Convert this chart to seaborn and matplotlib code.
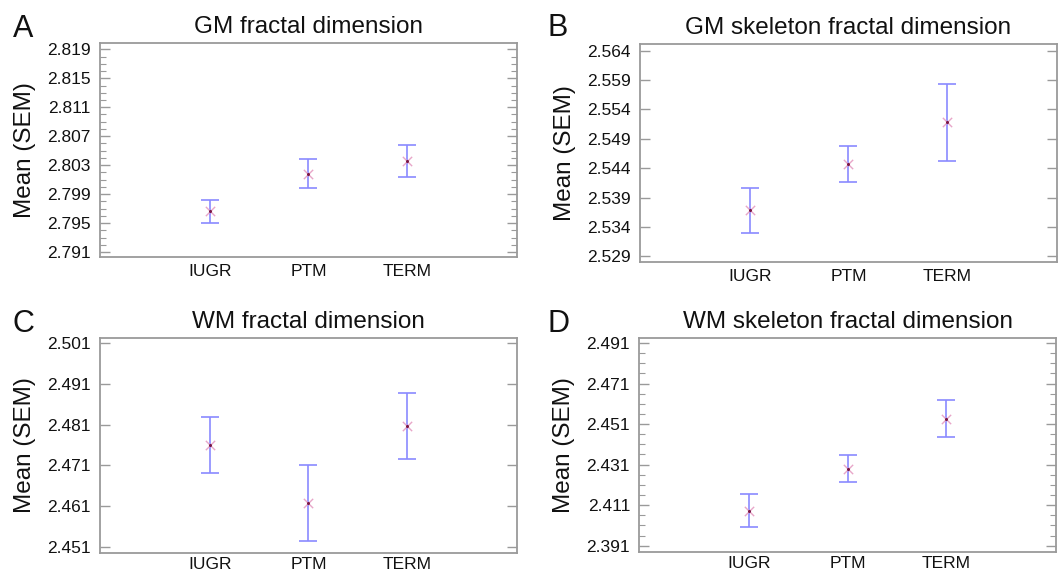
import matplotlib
matplotlib.use('Agg')
import matplotlib.pyplot as plt
import numpy as np
import pandas as pd
import seaborn as sns

sns.set_style('white')
plt.rcParams['font.family'] = ['Liberation Sans', 'DejaVu Sans']
plt.rcParams['text.color'] = '#111111'
plt.rcParams['axes.labelcolor'] = '#111111'

groups = ['IUGR', 'PTM', 'TERM']

# mean and SEM
gm_mean = [2.7966, 2.8018, 2.8036]
gm_sem = [0.0016, 0.0020, 0.00225]
gm_skel_mean = [2.5368, 2.5447, 2.5518]
gm_skel_sem = [0.0039, 0.0030, 0.0066]
wm_mean = [2.4760, 2.4617, 2.4806]
wm_sem = [0.0069, 0.0093, 0.0081]
wm_skel_mean = [2.4083, 2.4290, 2.4537]
wm_skel_sem = [0.0082, 0.0067, 0.0090]

gm_ticks = [2.791, 2.795, 2.799, 2.803, 2.807, 2.811, 2.815, 2.819]
gm_skel_ticks = [2.529, 2.534, 2.539, 2.544, 2.549, 2.554, 2.559, 2.564]
wm_ticks = [2.451, 2.461, 2.471, 2.481, 2.491, 2.501]
wm_skel_ticks = [2.391, 2.411, 2.431, 2.451, 2.471, 2.491]

panels = [
    # letter, title, means, sems, ticks, ylim, minor step, axes rect, x label pad
    ('A', 'GM fractal dimension', gm_mean, gm_sem, gm_ticks,
     (2.79031, 2.81987), 0.001, [0.0945, 0.5507, 0.3941, 0.3741], 5),
    ('B', 'GM skeleton fractal dimension', gm_skel_mean, gm_skel_sem, gm_skel_ticks,
     (2.52804, 2.56513), None, [0.6049, 0.5420, 0.3941, 0.3811], 5),
    ('C', 'WM fractal dimension', wm_mean, wm_sem, wm_ticks,
     (2.44953, 2.50223), None, [0.0945, 0.0332, 0.3941, 0.3759], 3),
    ('D', 'WM skeleton fractal dimension', wm_skel_mean, wm_skel_sem, wm_skel_ticks,
     (2.38787, 2.49347), 0.005, [0.6040, 0.0350, 0.3941, 0.3741], 3),
]
letter_pos = {'A': (13, 37), 'B': (547, 36), 'C': (13, 332), 'D': (547, 332)}

W, H = 1058, 572
fig = plt.figure(figsize=(W / 100, H / 100), dpi=100)

bar_col = '#8a8aff'
spine_col = '#9a9a9a'

for letter, title, means, sems, ticks, ylim, minor, rect, xpad in panels:
    ax = fig.add_axes(rect)
    df = pd.DataFrame({'group': groups, 'mean': means, 'sem': sems})
    xpos = np.arange(len(groups))
    ax.errorbar(xpos, df['mean'], yerr=df['sem'], fmt='none', ecolor=bar_col,
                elinewidth=1.2, capsize=6.8, capthick=1.2, zorder=2)
    sns.scatterplot(data=df, x='group', y='mean', marker='x', color='#e8a6c8',
                    s=45, linewidth=1.0, ax=ax, zorder=3)
    sns.scatterplot(data=df, x='group', y='mean', marker='o', color='#7a1848',
                    s=5, linewidth=0, ax=ax, zorder=4)
    ax.set_xlim(-1.117, 3.117)
    ax.set_ylim(*ylim)
    ax.set_xticks(xpos)
    ax.set_xticklabels(groups)
    ax.set_yticks(ticks)
    ax.set_yticklabels(['%.3f' % t for t in ticks])
    if minor:
        ax.set_yticks(np.arange(ticks[0], ticks[-1] + minor / 2, minor), minor=True)
    ax.set_xlabel('')
    ax.set_ylabel('Mean (SEM)', fontsize=17.5, labelpad=8)
    ax.set_title(title, fontsize=17.5, pad=7.5)
    ax.tick_params(axis='y', which='both', direction='in', left=True, right=True,
                   color=spine_col, labelsize=12.5, pad=6.5, labelcolor='#111111')
    ax.tick_params(axis='y', which='major', length=7, width=1.0)
    ax.tick_params(axis='y', which='minor', length=4, width=0.8)
    ax.tick_params(axis='x', length=0, labelsize=12.5, pad=xpad, labelcolor='#111111')
    for sp in ax.spines.values():
        sp.set_color(spine_col)
        sp.set_linewidth(1.3)
    fx, fy = letter_pos[letter]
    fig.text(fx / W, 1 - fy / H, letter, fontsize=22, ha='left', va='baseline')

fig.savefig('out.png', dpi=100)
